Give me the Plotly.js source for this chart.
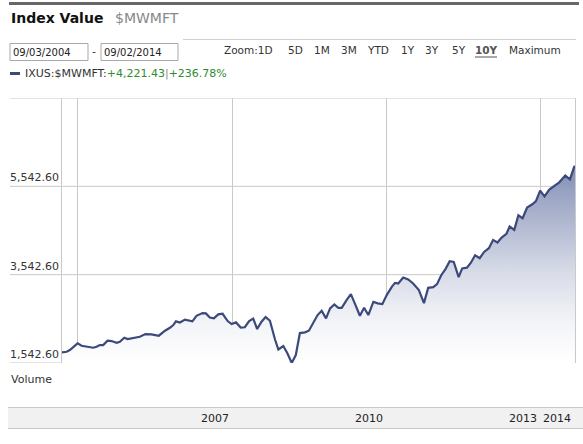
<!DOCTYPE html>
<html>
<head>
<meta charset="utf-8">
<script src="https://cdn.plot.ly/plotly-3.0.1.min.js"></script>
<style>
html,body{margin:0;padding:0;background:#fff;}
#chart{width:583px;height:444px;}
</style>
</head>
<body>
<div id="chart"></div>
<script>
// ---- data ----
const dates = [
'2004-09-03','2004-10-06','2004-10-29','2004-12-23','2005-01-21','2005-02-27','2005-04-13','2005-05-07','2005-05-30','2005-06-23',
'2005-07-24','2005-08-22','2005-09-27','2005-10-20','2005-11-20','2005-12-14','2006-01-24','2006-03-11','2006-04-20','2006-06-02',
'2006-07-24','2006-09-06','2006-10-11','2006-11-04','2006-11-23','2006-12-21','2007-01-26','2007-02-19','2007-03-20','2007-04-18',
'2007-05-31','2007-06-24','2007-07-22','2007-08-20','2007-09-20','2007-10-21','2007-11-26','2007-12-24','2008-01-24','2008-02-27',
'2008-03-27','2008-04-27','2008-05-26','2008-06-23','2008-07-24','2008-08-22','2008-09-22','2008-10-28','2008-11-21','2008-12-26',
'2009-01-24','2009-02-24','2009-03-25','2009-04-23','2009-05-29','2009-06-26','2009-07-26','2009-08-27','2009-09-25','2009-10-26',
'2009-11-24','2009-12-24','2010-01-22','2010-02-15','2010-03-21','2010-04-21','2010-05-24','2010-06-24','2010-07-24','2010-08-23',
'2010-09-28','2010-10-29','2010-12-01','2011-01-01','2011-02-06','2011-03-01','2011-03-24','2011-04-28','2011-06-03','2011-07-08',
'2011-08-18','2011-09-23','2011-10-23','2011-11-28','2011-12-25','2012-01-24','2012-02-24','2012-03-24','2012-04-22','2012-05-27',
'2012-06-21','2012-07-25','2012-08-22','2012-09-21','2012-10-24','2012-11-24','2012-12-28','2013-01-27','2013-02-27','2013-03-29',
'2013-05-02','2013-05-25','2013-06-27','2013-07-26','2013-08-25','2013-09-26','2013-11-02','2013-11-28','2013-12-28','2014-01-28',
'2014-03-03','2014-04-08','2014-05-13','2014-06-25','2014-07-28','2014-08-27','2014-09-02'
];
const values = [
1783,1798,1836,1988,1934,1911,1888,1911,1949,1949,
2047,2040,2001,2024,2114,2085,2108,2137,2198,2191,
2160,2273,2340,2401,2485,2458,2526,2514,2485,2612,
2673,2666,2571,2553,2643,2657,2492,2424,2462,2345,
2352,2492,2548,2311,2476,2582,2499,2074,1848,1927,
1762,1542.6,1723,2221,2236,2273,2453,2628,2725,2553,
2779,2869,2792,2792,2966,3102,2853,2612,2792,2628,
2928,2892,2876,3079,3267,3357,3344,3479,3434,3344,
3192,2899,3244,3260,3328,3531,3674,3848,3832,3486,
3685,3701,3814,3983,3916,4058,4142,4329,4270,4383,
4469,4632,4557,4887,4820,5061,5136,5208,5446,5317,
5471,5547,5633,5787,5701,5985,6004.3
];
const yGridValues = [1542.6, 3542.6, 5542.6, 7542.6];
const yLabelValues = [1542.6, 3542.6, 5542.6];
const xGridDates = ['2004-12-20','2008-01-01','2011-01-01','2014-01-01'];
const yearLabels = ['2007','2010','2013','2014'];
const yearLabelDates = ['2008-01-01','2011-01-01','2014-01-01','2014-09-02'];
const startDate = '09/03/2004';
const endDate = '09/02/2014';
const symbol = 'IXUS:$MWMFT:';
const changeAbs = '+4,221.43';
const changePct = '+236.78%';
const zoomLabels = ['Zoom:1D','5D','1M','3M','YTD','1Y','3Y','5Y','10Y','Maximum'];

// ---- layout helpers (pixel -> paper) ----
const W = 583, H = 444, L = 62, R = 575, T = 98, B = 363;
const px = x => (x - L) / (R - L);
const py = y => (B - y) / (B - T);
const FONT = 'DejaVu Sans, Verdana, sans-serif';
const NAVY = '#3b4a7b';
const GRID = '#c9c9c9';

const shapes = [];
const annotations = [];

// horizontal grid lines extending under the labels
yGridValues.forEach(v => shapes.push({type:'line', xref:'paper', yref:'y', x0:px(10), x1:1, y0:v, y1:v,
  line:{color:GRID, width:1}, layer:'below'}));
// y labels
yLabelValues.forEach(v => annotations.push({xref:'paper', yref:'y', x:px(9), y:v, xanchor:'left', yanchor:'bottom',
  text: v.toLocaleString('en-US',{minimumFractionDigits:2, maximumFractionDigits:2}), showarrow:false,
  font:{family:FONT, size:11, color:'#333'}, borderpad:0, yshift:1}));

// top dark rule
shapes.push({type:'line', xref:'paper', yref:'paper', x0:px(9), x1:px(579), y0:py(3.5), y1:py(3.5), line:{color:'#666', width:3}});
// title
annotations.push({xref:'paper', yref:'paper', x:px(9), y:py(18), xanchor:'left', yanchor:'middle', showarrow:false,
  text:'<b>Index Value</b>', font:{family:FONT, size:14, color:'#111'}});
annotations.push({xref:'paper', yref:'paper', x:px(113), y:py(18), xanchor:'left', yanchor:'middle', showarrow:false,
  text:'$MWMFT', font:{family:FONT, size:14, color:'#888'}});
// thin rule above zoom row
shapes.push({type:'line', xref:'paper', yref:'paper', x0:px(183), x1:px(576), y0:py(39.5), y1:py(39.5), line:{color:'#cfcfcf', width:1}});
// date boxes
[[10,88,startDate],[101,178,endDate]].forEach(b => {
  shapes.push({type:'rect', xref:'paper', yref:'paper', x0:px(b[0]), x1:px(b[1]), y0:py(60.5), y1:py(43.5),
    line:{color:'#a9a9a9', width:1}, fillcolor:'#fff'});
  annotations.push({xref:'paper', yref:'paper', x:px(b[0]+1), y:py(52.5), xanchor:'left', yanchor:'middle', showarrow:false,
    text:b[2], font:{family:FONT, size:10, color:'#222'}});
});
annotations.push({xref:'paper', yref:'paper', x:px(94), y:py(51), xanchor:'center', yanchor:'middle', showarrow:false,
  text:'-', font:{family:FONT, size:11, color:'#333'}});
// zoom row
const zoomX = [222,286,312,339,365,399,423,450,473,507];
zoomLabels.forEach((z,i) => {
  const active = z === '10Y';
  annotations.push({xref:'paper', yref:'paper', x:px(zoomX[i]), y:py(50), xanchor:'left', yanchor:'middle', showarrow:false,
    text: active ? '<b>'+z+'</b>' : z, font:{family:FONT, size:10.5, color: active ? '#555' : '#333'}});
});
shapes.push({type:'line', xref:'paper', yref:'paper', x0:px(475), x1:px(497), y0:py(57), y1:py(57), line:{color:'#555', width:1}});
// legend row
shapes.push({type:'line', xref:'paper', yref:'paper', x0:px(10), x1:px(20), y0:py(73.5), y1:py(73.5), line:{color:NAVY, width:3}});
annotations.push({xref:'paper', yref:'paper', x:px(23), y:py(73), xanchor:'left', yanchor:'middle', showarrow:false,
  text: symbol + '<span style="color:#2e8b2e">' + changeAbs + '</span><span style="color:#888">|</span><span style="color:#2e8b2e">' + changePct + '</span>',
  font:{family:FONT, size:11, color:'#333'}});
// Volume label
annotations.push({xref:'paper', yref:'paper', x:px(9), y:py(379), xanchor:'left', yanchor:'middle', showarrow:false,
  text:'Volume', font:{family:FONT, size:11, color:'#333'}});
// bottom band
shapes.push({type:'rect', xref:'paper', yref:'paper', x0:px(8), x1:px(583), y0:py(428), y1:py(407.5),
  line:{width:0}, fillcolor:'#f1f1f2', layer:'below'});
shapes.push({type:'line', xref:'paper', yref:'paper', x0:px(8), x1:px(583), y0:py(407.5), y1:py(407.5), line:{color:'#c9c9c9', width:1}});
shapes.push({type:'line', xref:'paper', yref:'paper', x0:px(8), x1:px(583), y0:py(428.5), y1:py(428.5), line:{color:'#c9c9c9', width:1}});
yearLabels.forEach((t,i) => annotations.push({xref:'x', yref:'paper', x:yearLabelDates[i], y:py(418), xanchor:'right', yanchor:'middle',
  xshift:-2, showarrow:false, text:t, font:{family:FONT, size:11, color:'#222'}}));

const trace = {
  x: dates, y: values, type:'scatter', mode:'lines',
  line:{color:NAVY, width:2.2},
  fill:'tozeroy',
  fillgradient:{type:'vertical', start:1542.6, stop:6100,
    colorscale:[[0,'rgb(255,255,255)'],[0.2,'rgb(243,244,248)'],[0.45,'rgb(216,220,232)'],[0.85,'rgb(152,162,194)'],[1,'rgb(122,134,173)']]},
  hoverinfo:'none', showlegend:false
};

const layout = {
  width:W, height:H,
  margin:{l:L, r:W-R, t:T, b:H-B, pad:0},
  paper_bgcolor:'#fff', plot_bgcolor:'#fff',
  showlegend:false,
  xaxis:{type:'date', range:['2004-09-03','2014-09-02'], tickvals:xGridDates, showticklabels:false, ticks:'',
    showgrid:true, gridcolor:GRID, gridwidth:1, zeroline:false, showline:false, fixedrange:true},
  yaxis:{range:[1542.6, 7542.6], showgrid:false, showticklabels:false, ticks:'', zeroline:false,
    showline:true, mirror:true, linecolor:GRID, linewidth:1, fixedrange:true},
  shapes: shapes,
  annotations: annotations
};

Plotly.newPlot('chart', [trace], layout, {displayModeBar:false, staticPlot:true});
</script>
</body>
</html>
